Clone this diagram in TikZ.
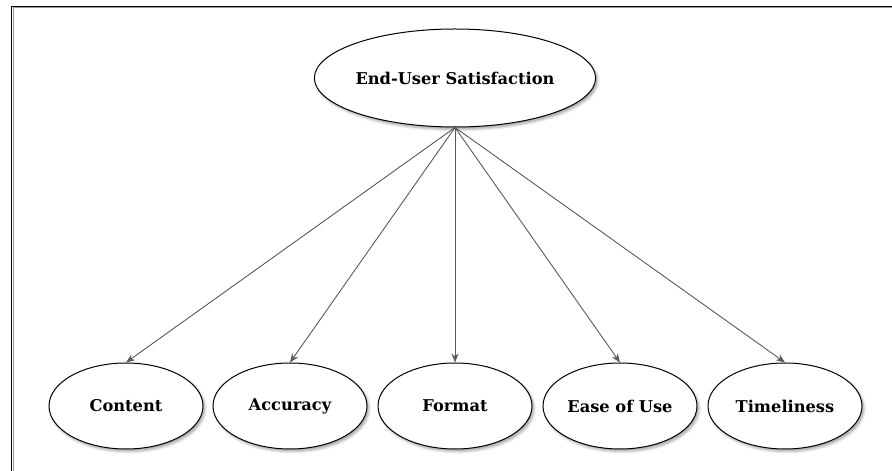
\documentclass[tikz,border=0pt]{standalone}
\usepackage{fontspec}
\setmainfont{DejaVu Serif}
\usetikzlibrary{shapes.geometric,arrows.meta,shadows.blur}
\begin{document}
\begin{tikzpicture}[x=1bp,y=-1bp,
  factor/.style={ellipse,draw=black,line width=1bp,fill=white,inner sep=0pt,
    minimum width=154bp,minimum height=86bp,
    font=\fontsize{16.3}{20}\selectfont\bfseries,
    blur shadow={shadow xshift=2bp,shadow yshift=-2.5bp,shadow blur radius=2.5bp,shadow opacity=35}},
  mainfactor/.style={factor,minimum width=228bp,minimum height=98bp},
  link/.style={draw=black!65,line width=0.9bp,-{Stealth[length=9bp,width=7bp]}}]
  \useasboundingbox (0,0) rectangle (892,471);
  % page frame, clipped at the right and bottom
  \draw[black!40,line width=1bp] (13,471) -- (13,8) -- (892,8);
  \draw[black,line width=1.2bp] (11.5,471) -- (11.5,6.5) -- (892,6.5);
  % construct and its dimensions
  \node[mainfactor] (eus) at (455,78) {End-User Satisfaction};
  \node[factor] (content) at (126,406) {Content};
  \node[factor] (accuracy) at (290,406) {Accuracy};
  \node[factor] (format) at (455,406) {Format};
  \node[factor] (ease) at (620,406) {Ease of Use};
  \node[factor] (time) at (785,406) {Timeliness};
  \foreach \n in {content,accuracy,format,ease,time}
    \draw[link] (eus.south) -- (\n.north);
\end{tikzpicture}
\end{document}
